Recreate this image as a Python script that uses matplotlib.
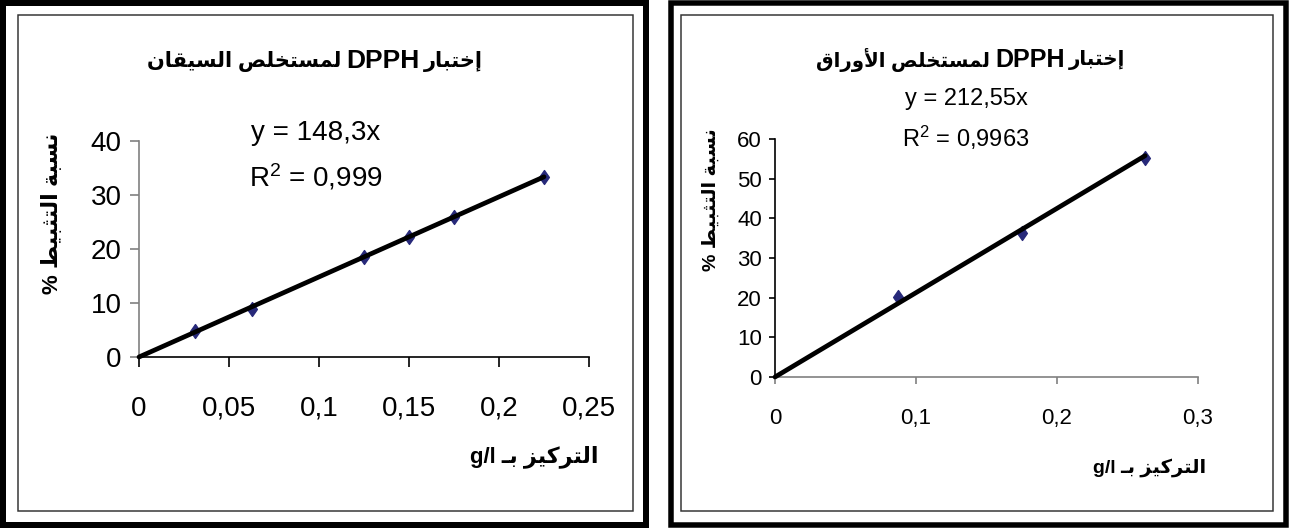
import re
import matplotlib
matplotlib.use('Agg')
import matplotlib.pyplot as plt
from matplotlib.patches import Rectangle
from matplotlib.path import Path

plt.rcParams['mathtext.default'] = 'regular'

NUM_FONT = ['Liberation Sans Narrow', 'Liberation Sans', 'DejaVu Sans']
AR_FONT = ['Liberation Sans', 'DejaVu Sans']

# stems extract (left chart)
stem_conc = [0.03125, 0.0625, 0.125, 0.15, 0.175, 0.225]
stem_inhib = [4.8, 8.8, 18.6, 22.2, 26.0, 33.4]
stem_slope = 148.3
stem_eq = 'y = 148,3x'
stem_r2 = 'R$^{2}$ = 0,999'
stem_xticks = [0, 0.05, 0.1, 0.15, 0.2, 0.25]
stem_xlabels = ['0', '0,05', '0,1', '0,15', '0,2', '0,25']
stem_yticks = [0, 10, 20, 30, 40]

# leaves extract (right chart)
leaf_conc = [0.0875, 0.175, 0.2625]
leaf_inhib = [20.1, 36.3, 55.2]
leaf_slope = 212.55
leaf_eq = 'y = 212,55x'
leaf_r2 = 'R$^{2}$ = 0,9963'
leaf_xticks = [0, 0.1, 0.2, 0.3]
leaf_xlabels = ['0', '0,1', '0,2', '0,3']
leaf_yticks = [0, 10, 20, 30, 40, 50, 60]

# titles split round the latin word so each piece can be placed
title_head = 'إختبار'
title_mid = 'DPPH'
title_stem_tail = 'لمستخلص السيقان'
title_leaf_tail = 'لمستخلص الأوراق'
ylabel_ar = 'نسبة التثبيط %'
xlabel_ar = 'التركيز بـ g/l'

# --- minimal arabic shaping (matplotlib has no shaping / bidi) ---
FORMS = {
    'ا': ('\uFE8D', '\uFE8E', None, None),
    'أ': ('\uFE83', '\uFE84', None, None),
    'إ': ('\uFE87', '\uFE88', None, None),
    'ب': ('\uFE8F', '\uFE90', '\uFE91', '\uFE92'),
    'ة': ('\uFE93', '\uFE94', None, None),
    'ت': ('\uFE95', '\uFE96', '\uFE97', '\uFE98'),
    'ث': ('\uFE99', '\uFE9A', '\uFE9B', '\uFE9C'),
    'خ': ('\uFEA5', '\uFEA6', '\uFEA7', '\uFEA8'),
    'ر': ('\uFEAD', '\uFEAE', None, None),
    'ز': ('\uFEAF', '\uFEB0', None, None),
    'س': ('\uFEB1', '\uFEB2', '\uFEB3', '\uFEB4'),
    'ص': ('\uFEB9', '\uFEBA', '\uFEBB', '\uFEBC'),
    'ط': ('\uFEC1', '\uFEC2', '\uFEC3', '\uFEC4'),
    'ق': ('\uFED5', '\uFED6', '\uFED7', '\uFED8'),
    'ك': ('\uFED9', '\uFEDA', '\uFEDB', '\uFEDC'),
    'ل': ('\uFEDD', '\uFEDE', '\uFEDF', '\uFEE0'),
    'م': ('\uFEE1', '\uFEE2', '\uFEE3', '\uFEE4'),
    'ن': ('\uFEE5', '\uFEE6', '\uFEE7', '\uFEE8'),
    'و': ('\uFEED', '\uFEEE', None, None),
    'ي': ('\uFEF1', '\uFEF2', '\uFEF3', '\uFEF4'),
    'ـ': ('\u0640', '\u0640', '\u0640', '\u0640'),
}
LAM_ALEF = {'ا': ('\uFEFB', '\uFEFC'), 'أ': ('\uFEF7', '\uFEF8'),
            'إ': ('\uFEF9', '\uFEFA')}


def joins_next(ch):
    return ch in FORMS and FORMS[ch][2] is not None


def shape(text):
    out = []
    i = 0
    while i < len(text):
        ch = text[i]
        prev = text[i-1] if i > 0 else ''
        joined = joins_next(prev)
        if ch == 'ل' and i + 1 < len(text) and text[i+1] in LAM_ALEF:
            out.append(LAM_ALEF[text[i+1]][1 if joined else 0])
            i += 2
            continue
        if ch not in FORMS:
            out.append(ch)
            i += 1
            continue
        nxt = text[i+1] if i + 1 < len(text) else ''
        links = joins_next(ch) and nxt in FORMS
        iso, fin, ini, med = FORMS[ch]
        if joined and links:
            out.append(med)
        elif joined:
            out.append(fin)
        elif links:
            out.append(ini)
        else:
            out.append(iso)
        i += 1
    return ''.join(out)


def ar(text):
    runs = re.findall(r'[A-Za-z0-9/]+|[^A-Za-z0-9/]+', shape(text))
    return ''.join(r if re.match(r'[A-Za-z0-9/]', r) else r[::-1]
                   for r in reversed(runs))


W, H = 1289, 530


def fx(x):
    return x / W


def fy(y):
    return 1 - y / H


def px2pt(p):
    return p * 72 / 100


fig = plt.figure(figsize=(W / 100, H / 100), dpi=100)

# panel frames
for x0, y0, x1, y1, lw in [(3, 3, 646, 524.5, 6), (670.5, 2.5, 1286, 524.5, 5.5)]:
    fig.add_artist(Rectangle((fx(x0), fy(y1)), (x1 - x0) / W, (y1 - y0) / H,
                             transform=fig.transFigure, fill=False,
                             ec='black', lw=px2pt(lw)))
for x0, y0, x1, y1 in [(18, 15, 633, 511), (681, 15, 1273, 511)]:
    fig.add_artist(Rectangle((fx(x0), fy(y1)), (x1 - x0) / W, (y1 - y0) / H,
                             transform=fig.transFigure, fill=False,
                             ec='#333333', lw=px2pt(1.5)))

diamond = Path([(0, 1), (0.7, 0), (0, -1), (-0.7, 0), (0, 1)],
               [Path.MOVETO, Path.LINETO, Path.LINETO, Path.LINETO, Path.CLOSEPOLY])


def draw_chart(rect, conc, inhib, slope, xticks, xlabels, yticks, xmax, ymax,
               fs, yspine_col, xspine_col, tlen_x, tlen_y, xpad, ypad):
    ax = fig.add_axes(rect)
    ax.set_facecolor('none')
    ax.plot(conc, inhib, linestyle='none', marker=diamond, markersize=10,
            color='#27297A', zorder=2, clip_on=False)
    ax.plot([0, max(conc)], [0, slope * max(conc)], color='black', lw=3.4,
            solid_capstyle='round', zorder=3, clip_on=False)
    ax.set_xlim(0, xmax)
    ax.set_ylim(0, ymax)
    ax.set_xticks(xticks)
    ax.set_xticklabels(xlabels)
    ax.set_yticks(yticks)
    for s in ['top', 'right']:
        ax.spines[s].set_visible(False)
    ax.spines['left'].set_color(yspine_col)
    ax.spines['bottom'].set_color(xspine_col)
    ax.spines['left'].set_linewidth(1.2)
    ax.spines['bottom'].set_linewidth(1.2)
    ax.tick_params(axis='x', direction='out', length=tlen_x, width=1.2,
                   color=xspine_col, pad=xpad, labelsize=fs)
    ax.tick_params(axis='y', direction='out', length=tlen_y, width=1.2,
                   color=yspine_col, pad=ypad, labelsize=fs)
    for lab in ax.get_xticklabels() + ax.get_yticklabels():
        lab.set_fontfamily(NUM_FONT)
    return ax


draw_chart([fx(139), fy(357), (589 - 139) / W, (357 - 141) / H],
           stem_conc, stem_inhib, stem_slope, stem_xticks, stem_xlabels,
           stem_yticks, 0.25, 40, 20, '#808080', 'black', 7, 6.5, 21, 6)
draw_chart([fx(775), fy(377), (1198 - 775) / W, (377 - 139) / H],
           leaf_conc, leaf_inhib, leaf_slope, leaf_xticks, leaf_xlabels,
           leaf_yticks, 0.3, 60, 16, 'black', '#808080', 5, 4.5, 17, 5)


def title(x_mid, y, tail, scale):
    # RTL: head on the right of DPPH, tail on the left
    fig.text(fx(x_mid), fy(y), title_mid, ha='center', va='center',
             fontsize=19 * scale, fontweight='bold', family=AR_FONT)
    fig.text(fx(x_mid + 41 * scale), fy(y), ar(title_head), ha='left',
             va='center', fontsize=15 * scale, fontweight='bold', family=AR_FONT)
    fig.text(fx(x_mid - 42 * scale), fy(y), ar(tail), ha='right',
             va='center', fontsize=15 * scale, fontweight='bold', family=AR_FONT)


title(383, 61, title_stem_tail, 1.0)
title(1030, 60, title_leaf_tail, 0.95)

# trend equations
fig.text(fx(316), fy(133), stem_eq, ha='center', va='center', fontsize=20,
         family=NUM_FONT)
fig.text(fx(316), fy(177), stem_r2, ha='center', va='center', fontsize=20,
         family=NUM_FONT)
fig.text(fx(966), fy(99), leaf_eq, ha='center', va='center', fontsize=17,
         family=NUM_FONT)
fig.text(fx(966), fy(138), leaf_r2, ha='center', va='center', fontsize=17,
         family=NUM_FONT)

# axis labels
fig.text(fx(53), fy(213), ar(ylabel_ar), rotation=90, ha='center',
         va='center', fontsize=16, fontweight='bold', family=AR_FONT)
fig.text(fx(711), fy(200), ar(ylabel_ar), rotation=90, ha='center',
         va='center', fontsize=14, fontweight='bold', family=AR_FONT)
fig.text(fx(598), fy(457), ar(xlabel_ar), ha='right', va='center',
         fontsize=16, fontweight='bold', family=AR_FONT)
fig.text(fx(1206), fy(468), ar(xlabel_ar), ha='right', va='center',
         fontsize=14, fontweight='bold', family=AR_FONT)

fig.savefig('out.png', dpi=100)
